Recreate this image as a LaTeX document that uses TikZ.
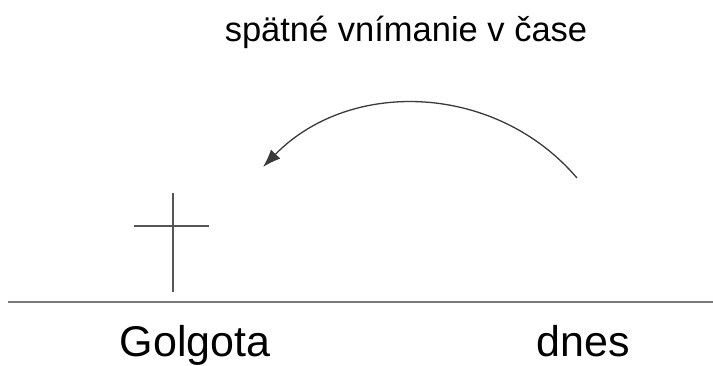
\documentclass[tikz,border=0pt]{standalone}
\usepackage{fontspec}
\setmainfont{Liberation Sans}
\usetikzlibrary{arrows.meta}
\definecolor{curve}{HTML}{3A3A3A}
\definecolor{ground}{HTML}{7A7A7A}
\definecolor{cross}{HTML}{555555}

\begin{document}
\begin{tikzpicture}[x=1pt,y=-1pt,
  lbl/.style={anchor=base,inner sep=0pt,font=\fontsize{43}{43}\selectfont},
  ttl/.style={anchor=base,inner sep=0pt,font=\fontsize{34.5}{34.5}\selectfont},
  arr/.style={-{Latex[length=18pt,width=13pt]},line width=1.3pt,curve}]
\useasboundingbox (0,0) rectangle (713,365);
\node[ttl] (title) at (406,41) {spätné vnímanie v čase};
\node[lbl] (golgota) at (195,356) {Golgota};
\node[lbl] (dnes) at (583,356) {dnes};
% time line
\coordinate (t0) at (8,302);
\coordinate (t1) at (713,302);
\draw[ground,line width=2pt] (t0) -- (t1);
% cross
\draw[cross,line width=1.6pt] (173,193) -- (173,292) (134,226) -- (209,226);
% looking back
\coordinate (now) at (577,178);
\coordinate (past) at (263,167);
\draw[arr] (now) .. controls (496,83) and (350,78) .. (past);
\end{tikzpicture}
\end{document}
